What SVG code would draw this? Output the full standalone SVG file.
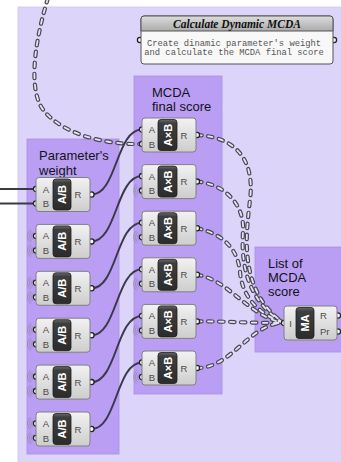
<svg xmlns="http://www.w3.org/2000/svg" xmlns:xlink="http://www.w3.org/1999/xlink" width="341" height="462" viewBox="0 0 341 462">
<style>
.grpO{fill:#ddd4fa;stroke:#cfc4f2;stroke-width:0.8}
.grpI{fill:#b99ef3;stroke:#a98ee6;stroke-width:0.8}
.glabel{font-family:"Liberation Sans",Arial,sans-serif;font-size:13px;fill:#141414}
.body{fill:url(#bodyGrad);stroke:#808080;stroke-width:1}
.dark{fill:url(#darkGrad);stroke:#1e1e1e;stroke-width:0.8}
.dtext{font-family:"Liberation Sans",Arial,sans-serif;font-weight:bold;font-size:11px;fill:#ffffff}
.plabel{font-family:"Liberation Sans",Arial,sans-serif;font-size:9.5px;fill:#4a4a4a}
.port{fill:#f4f4f4;stroke:#222;stroke-width:1.3}
.halo{fill:none;stroke:#7a7a7a;stroke-width:0.8;opacity:0.55}
.wire{fill:none;stroke:#3b3a48;stroke-width:2}
.dashO{fill:none;stroke:#4a4956;stroke-width:4.2;stroke-dasharray:4.5 6.5;stroke-linecap:round}
.dashI{fill:none;stroke:#e6e2f0;stroke-width:1.8;stroke-dasharray:4.5 6.5;stroke-linecap:round}
.ctitle{font-family:"Liberation Serif","Times New Roman",serif;font-style:italic;font-weight:bold;font-size:11.5px;fill:#111}
.ctext{font-family:"Liberation Mono","Courier New",monospace;font-size:8.8px;fill:#555}
</style>
<defs>
<linearGradient id="bodyGrad" x1="0" y1="0" x2="0" y2="1">
<stop offset="0" stop-color="#f2f2f2"/><stop offset="1" stop-color="#cdcdcd"/>
</linearGradient>
<linearGradient id="darkGrad" x1="0" y1="0" x2="0" y2="1">
<stop offset="0" stop-color="#6a6a6a"/><stop offset="0.12" stop-color="#3e3e3e"/><stop offset="1" stop-color="#2c2c2c"/>
</linearGradient>
<linearGradient id="titleGrad" x1="0" y1="0" x2="0" y2="1">
<stop offset="0" stop-color="#dcdcdc"/><stop offset="1" stop-color="#ababab"/>
</linearGradient>
<g id="halo">
<path class="halo" d="M-2.9,-3.45 A4.5,4.5 0 0 0 -2.9,3.45"/>
<path class="halo" d="M-4.2,-5 A6.5,6.5 0 0 0 -4.2,5"/>
<path class="halo" d="M-5.5,-6.5 A8.5,8.5 0 0 0 -5.5,6.5"/>
</g>
</defs>

<rect width="341" height="462" fill="#ffffff"/>

<g id="group-outer"><rect class="grpO" x="18" y="7" width="330" height="462"/></g>
<g id="group-weight">
<rect class="grpI" x="27" y="139" width="92" height="315"/>
<text class="glabel" x="39" y="160">Parameter's</text>
<text class="glabel" x="39" y="174.5">weight</text>
</g>
<g id="group-final">
<rect class="grpI" x="134" y="76" width="88" height="318"/>
<text class="glabel" x="152" y="97">MCDA</text>
<text class="glabel" x="152" y="111">final score</text>
</g>
<g id="group-list">
<rect class="grpI" x="255" y="247" width="90" height="105"/>
<text class="glabel" x="268" y="268">List of</text>
<text class="glabel" x="268" y="282">MCDA</text>
<text class="glabel" x="268" y="295.5">score</text>
</g>

<g id="comment">
<circle class="port" cx="140" cy="40" r="2.6"/>
<circle class="port" cx="334" cy="40" r="2.6"/>
<rect x="141" y="16" width="192" height="48" rx="3" fill="#f8f8f8" stroke="#555" stroke-width="1"/>
<path d="M141,31 V19 A3,3 0 0 1 144,16 H330 A3,3 0 0 1 333,19 V31 Z" fill="url(#titleGrad)" stroke="#555" stroke-width="1"/>
<text class="ctitle" x="237" y="27.5" text-anchor="middle">Calculate Dynamic MCDA</text>
<text class="ctext" x="234" y="45.5" text-anchor="middle">Create dinamic parameter's weight</text>
<text class="ctext" x="234" y="54.5" text-anchor="middle">and calculate the MCDA final score</text>
</g>

<g id="connectors">
<path class="wire" d="M0,189 L36,189"/>
<path class="wire" d="M0,203.5 L36,203.5"/>
<path class="wire" d="M91.5,194.5 C117,194.5 116,129.5 142,129.5"/>
<path class="wire" d="M91.5,241.4 C117,241.4 116,176.1 142,176.1"/>
<path class="wire" d="M91.5,288.3 C117,288.3 116,222.7 142,222.7"/>
<path class="wire" d="M91.5,335.2 C117,335.2 116,269.3 142,269.3"/>
<path class="wire" d="M91.5,382.1 C117,382.1 116,315.9 142,315.9"/>
<path class="wire" d="M91.5,429 C117,429 116,362.5 142,362.5"/>
<g id="dashed">
<path class="dashO" d="M48,-2 C32,50 29,95 45,112 C62,132 100,145 142,144"/>
<path class="dashO" d="M197,135 C236,137 255,160 250,200 C246,235 238,290 283.5,323"/>
<path class="dashO" d="M197,181.6 C225,184 245,205 243,232 C241,262 246,300 283.5,323"/>
<path class="dashO" d="M197,228.2 C224,234 238,250 240,272 C242,296 258,314 283.5,323"/>
<path class="dashO" d="M197,274.8 C228,279 248,316 283.5,323"/>
<path class="dashO" d="M197,321.4 C230,321.4 250,323 283.5,323"/>
<path class="dashO" d="M197,368 C232,368 250,323 283.5,323"/>
<path class="dashI" d="M48,-2 C32,50 29,95 45,112 C62,132 100,145 142,144"/>
<path class="dashI" d="M197,135 C236,137 255,160 250,200 C246,235 238,290 283.5,323"/>
<path class="dashI" d="M197,181.6 C225,184 245,205 243,232 C241,262 246,300 283.5,323"/>
<path class="dashI" d="M197,228.2 C224,234 238,250 240,272 C242,296 258,314 283.5,323"/>
<path class="dashI" d="M197,274.8 C228,279 248,316 283.5,323"/>
<path class="dashI" d="M197,321.4 C230,321.4 250,323 283.5,323"/>
<path class="dashI" d="M197,368 C232,368 250,323 283.5,323"/>
</g>
</g>

<!-- Left A/B nodes -->
<g id="div0" transform="translate(36,177.5)">
<circle class="port" cx="0" cy="11.5" r="2.6"/><circle class="port" cx="0" cy="26" r="2.6"/><circle class="port" cx="55.5" cy="17" r="2.6"/>
<rect class="body" x="0" y="0" width="54" height="34" rx="3"/>
<rect class="dark" x="17" y="1.5" width="18" height="31" rx="3"/>
<text class="dtext" transform="translate(26,17) rotate(-90)" y="4" text-anchor="middle">A/B</text>
<text class="plabel" x="10" y="15" text-anchor="middle">A</text><text class="plabel" x="10" y="29.5" text-anchor="middle">B</text><text class="plabel" x="42" y="20.5" text-anchor="middle">R</text>
</g>
<g id="div1" transform="translate(36,224.4)">
<use xlink:href="#halo" href="#halo" x="0" y="11.5"/><use xlink:href="#halo" href="#halo" x="0" y="26"/>
<circle class="port" cx="0" cy="11.5" r="2.6"/><circle class="port" cx="0" cy="26" r="2.6"/><circle class="port" cx="55.5" cy="17" r="2.6"/>
<rect class="body" x="0" y="0" width="54" height="34" rx="3"/>
<rect class="dark" x="17" y="1.5" width="18" height="31" rx="3"/>
<text class="dtext" transform="translate(26,17) rotate(-90)" y="4" text-anchor="middle">A/B</text>
<text class="plabel" x="10" y="15" text-anchor="middle">A</text><text class="plabel" x="10" y="29.5" text-anchor="middle">B</text><text class="plabel" x="42" y="20.5" text-anchor="middle">R</text>
</g>
<g id="div2" transform="translate(36,271.3)">
<use xlink:href="#halo" href="#halo" x="0" y="11.5"/><use xlink:href="#halo" href="#halo" x="0" y="26"/>
<circle class="port" cx="0" cy="11.5" r="2.6"/><circle class="port" cx="0" cy="26" r="2.6"/><circle class="port" cx="55.5" cy="17" r="2.6"/>
<rect class="body" x="0" y="0" width="54" height="34" rx="3"/>
<rect class="dark" x="17" y="1.5" width="18" height="31" rx="3"/>
<text class="dtext" transform="translate(26,17) rotate(-90)" y="4" text-anchor="middle">A/B</text>
<text class="plabel" x="10" y="15" text-anchor="middle">A</text><text class="plabel" x="10" y="29.5" text-anchor="middle">B</text><text class="plabel" x="42" y="20.5" text-anchor="middle">R</text>
</g>
<g id="div3" transform="translate(36,318.2)">
<use xlink:href="#halo" href="#halo" x="0" y="11.5"/><use xlink:href="#halo" href="#halo" x="0" y="26"/>
<circle class="port" cx="0" cy="11.5" r="2.6"/><circle class="port" cx="0" cy="26" r="2.6"/><circle class="port" cx="55.5" cy="17" r="2.6"/>
<rect class="body" x="0" y="0" width="54" height="34" rx="3"/>
<rect class="dark" x="17" y="1.5" width="18" height="31" rx="3"/>
<text class="dtext" transform="translate(26,17) rotate(-90)" y="4" text-anchor="middle">A/B</text>
<text class="plabel" x="10" y="15" text-anchor="middle">A</text><text class="plabel" x="10" y="29.5" text-anchor="middle">B</text><text class="plabel" x="42" y="20.5" text-anchor="middle">R</text>
</g>
<g id="div4" transform="translate(36,365.1)">
<use xlink:href="#halo" href="#halo" x="0" y="11.5"/><use xlink:href="#halo" href="#halo" x="0" y="26"/>
<circle class="port" cx="0" cy="11.5" r="2.6"/><circle class="port" cx="0" cy="26" r="2.6"/><circle class="port" cx="55.5" cy="17" r="2.6"/>
<rect class="body" x="0" y="0" width="54" height="34" rx="3"/>
<rect class="dark" x="17" y="1.5" width="18" height="31" rx="3"/>
<text class="dtext" transform="translate(26,17) rotate(-90)" y="4" text-anchor="middle">A/B</text>
<text class="plabel" x="10" y="15" text-anchor="middle">A</text><text class="plabel" x="10" y="29.5" text-anchor="middle">B</text><text class="plabel" x="42" y="20.5" text-anchor="middle">R</text>
</g>
<g id="div5" transform="translate(36,412)">
<use xlink:href="#halo" href="#halo" x="0" y="11.5"/><use xlink:href="#halo" href="#halo" x="0" y="26"/>
<circle class="port" cx="0" cy="11.5" r="2.6"/><circle class="port" cx="0" cy="26" r="2.6"/><circle class="port" cx="55.5" cy="17" r="2.6"/>
<rect class="body" x="0" y="0" width="54" height="34" rx="3"/>
<rect class="dark" x="17" y="1.5" width="18" height="31" rx="3"/>
<text class="dtext" transform="translate(26,17) rotate(-90)" y="4" text-anchor="middle">A/B</text>
<text class="plabel" x="10" y="15" text-anchor="middle">A</text><text class="plabel" x="10" y="29.5" text-anchor="middle">B</text><text class="plabel" x="42" y="20.5" text-anchor="middle">R</text>
</g>

<!-- Middle AxB nodes -->
<g id="mul0" transform="translate(142,118)">
<circle class="port" cx="0" cy="11.5" r="2.6"/><circle class="port" cx="0" cy="26" r="2.6"/><circle class="port" cx="55" cy="17" r="2.6"/>
<rect class="body" x="0" y="0" width="54" height="34" rx="3"/>
<rect class="dark" x="16" y="1.5" width="19" height="31" rx="3"/>
<text class="dtext" transform="translate(25.5,17) rotate(-90)" y="4" text-anchor="middle">A×B</text>
<text class="plabel" x="10" y="15" text-anchor="middle">A</text><text class="plabel" x="10" y="29.5" text-anchor="middle">B</text><text class="plabel" x="42" y="20.5" text-anchor="middle">R</text>
</g>
<g id="mul1" transform="translate(142,164.6)">
<use xlink:href="#halo" href="#halo" x="0" y="26"/>
<circle class="port" cx="0" cy="11.5" r="2.6"/><circle class="port" cx="0" cy="26" r="2.6"/><circle class="port" cx="55" cy="17" r="2.6"/>
<rect class="body" x="0" y="0" width="54" height="34" rx="3"/>
<rect class="dark" x="16" y="1.5" width="19" height="31" rx="3"/>
<text class="dtext" transform="translate(25.5,17) rotate(-90)" y="4" text-anchor="middle">A×B</text>
<text class="plabel" x="10" y="15" text-anchor="middle">A</text><text class="plabel" x="10" y="29.5" text-anchor="middle">B</text><text class="plabel" x="42" y="20.5" text-anchor="middle">R</text>
</g>
<g id="mul2" transform="translate(142,211.2)">
<use xlink:href="#halo" href="#halo" x="0" y="26"/>
<circle class="port" cx="0" cy="11.5" r="2.6"/><circle class="port" cx="0" cy="26" r="2.6"/><circle class="port" cx="55" cy="17" r="2.6"/>
<rect class="body" x="0" y="0" width="54" height="34" rx="3"/>
<rect class="dark" x="16" y="1.5" width="19" height="31" rx="3"/>
<text class="dtext" transform="translate(25.5,17) rotate(-90)" y="4" text-anchor="middle">A×B</text>
<text class="plabel" x="10" y="15" text-anchor="middle">A</text><text class="plabel" x="10" y="29.5" text-anchor="middle">B</text><text class="plabel" x="42" y="20.5" text-anchor="middle">R</text>
</g>
<g id="mul3" transform="translate(142,257.8)">
<use xlink:href="#halo" href="#halo" x="0" y="26"/>
<circle class="port" cx="0" cy="11.5" r="2.6"/><circle class="port" cx="0" cy="26" r="2.6"/><circle class="port" cx="55" cy="17" r="2.6"/>
<rect class="body" x="0" y="0" width="54" height="34" rx="3"/>
<rect class="dark" x="16" y="1.5" width="19" height="31" rx="3"/>
<text class="dtext" transform="translate(25.5,17) rotate(-90)" y="4" text-anchor="middle">A×B</text>
<text class="plabel" x="10" y="15" text-anchor="middle">A</text><text class="plabel" x="10" y="29.5" text-anchor="middle">B</text><text class="plabel" x="42" y="20.5" text-anchor="middle">R</text>
</g>
<g id="mul4" transform="translate(142,304.4)">
<use xlink:href="#halo" href="#halo" x="0" y="26"/>
<circle class="port" cx="0" cy="11.5" r="2.6"/><circle class="port" cx="0" cy="26" r="2.6"/><circle class="port" cx="55" cy="17" r="2.6"/>
<rect class="body" x="0" y="0" width="54" height="34" rx="3"/>
<rect class="dark" x="16" y="1.5" width="19" height="31" rx="3"/>
<text class="dtext" transform="translate(25.5,17) rotate(-90)" y="4" text-anchor="middle">A×B</text>
<text class="plabel" x="10" y="15" text-anchor="middle">A</text><text class="plabel" x="10" y="29.5" text-anchor="middle">B</text><text class="plabel" x="42" y="20.5" text-anchor="middle">R</text>
</g>
<g id="mul5" transform="translate(142,351)">
<use xlink:href="#halo" href="#halo" x="0" y="26"/>
<circle class="port" cx="0" cy="11.5" r="2.6"/><circle class="port" cx="0" cy="26" r="2.6"/><circle class="port" cx="55" cy="17" r="2.6"/>
<rect class="body" x="0" y="0" width="54" height="34" rx="3"/>
<rect class="dark" x="16" y="1.5" width="19" height="31" rx="3"/>
<text class="dtext" transform="translate(25.5,17) rotate(-90)" y="4" text-anchor="middle">A×B</text>
<text class="plabel" x="10" y="15" text-anchor="middle">A</text><text class="plabel" x="10" y="29.5" text-anchor="middle">B</text><text class="plabel" x="42" y="20.5" text-anchor="middle">R</text>
</g>

<!-- Mass addition node -->
<g id="ma" transform="translate(284,306)">
<circle class="port" cx="0" cy="17" r="2.6"/><circle class="port" cx="54" cy="9.5" r="2.6"/><circle class="port" cx="54" cy="25.5" r="2.6"/>
<rect class="body" x="0" y="0" width="53" height="34" rx="3"/>
<rect class="dark" x="12" y="1.5" width="18" height="31" rx="3"/>
<text class="dtext" transform="translate(21,17) rotate(-90)" y="4" text-anchor="middle">MA</text>
<text class="plabel" x="6.5" y="20.5" text-anchor="middle">I</text>
<text class="plabel" x="36" y="12.5">R</text>
<text class="plabel" x="36" y="28.5">Pr</text>
</g>
</svg>
